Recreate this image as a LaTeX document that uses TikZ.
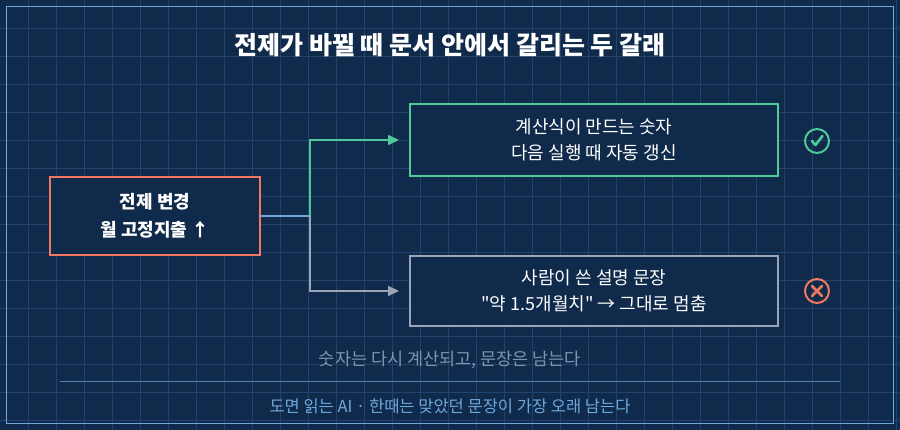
\documentclass[tikz,border=0pt]{standalone}
\usepackage{fontspec}
\setmainfont{Noto Sans CJK KR}
\newfontfamily\plainq{Noto Sans CJK KR}[Ligatures=TeXOff]
\usetikzlibrary{arrows.meta,positioning}
\definecolor{bgc}{HTML}{0F2A4A}
\definecolor{gridc}{HTML}{21436E}
\definecolor{framec}{HTML}{6FA8DC}
\definecolor{greenc}{HTML}{4FC99A}
\definecolor{redc}{HTML}{F07860}
\definecolor{grayc}{HTML}{9AA6B8}
\definecolor{mutec}{HTML}{7F93AE}
\tikzset{
  box/.style={draw, line width=2pt, fill=bgc, align=center, text=white, font=\fontsize{18}{26}\selectfont},
  link/.style={line width=2pt, -{Triangle[length=11pt,width=10pt]}}
}
\begin{document}
\begin{tikzpicture}[x=1pt,y=-1pt]
  \fill[bgc] (0,0) rectangle (900,430);
  \useasboundingbox (0,0) rectangle (900,430);
  \foreach \gx in {28,56,...,896} \draw[gridc, line width=0.8pt] (\gx,0) -- (\gx,430);
  \foreach \gy in {28,56,...,428} \draw[gridc, line width=0.8pt] (0,\gy) -- (900,\gy);
  \draw[framec, line width=1.2pt] (6.5,6.5) rectangle (893.5,423.5);
  \node[text=white, font=\fontsize{25}{30}\selectfont\bfseries] (title) at (450,45) {전제가 바뀔 때 문서 안에서 갈리는 두 갈래};
  \node[box, draw=redc, minimum width=210, minimum height=78, font=\fontsize{18}{28}\selectfont\bfseries] (premise) at (155,216) {전제 변경\\월 고정지출 ↑};
  \node[box, draw=greenc, minimum width=368, minimum height=72] (calc) at (594,140) {계산식이 만드는 숫자\\다음 실행 때 자동 갱신};
  \node[box, draw=grayc, minimum width=368, minimum height=70] (text) at (594,291) {사람이 쓴 설명 문장\\{\plainq"}약 1.5개월치{\plainq"} → 그대로 멈춤};
  \coordinate (fork) at (310,216);
  \draw[framec, line width=2pt] (premise.east) -- (fork);
  \draw[link, greenc] (fork) |- ([xshift=-10pt]calc.west);
  \draw[link, grayc] (fork) |- ([xshift=-10pt]text.west);
  % status marks
  \node[circle, draw=greenc, line width=2pt, minimum size=24pt, inner sep=0pt] (ok) at (817,141) {};
  \draw[greenc, line width=2.6pt, line cap=round, line join=round] ([shift={(-5,0)}]ok.center) -- ++(3.5,4) -- ++(7,-9);
  \node[circle, draw=redc, line width=2pt, minimum size=24pt, inner sep=0pt] (no) at (817,291) {};
  \draw[redc, line width=2.6pt, line cap=round] ([shift={(-5,-5)}]no.center) -- ([shift={(5,5)}]no.center);
  \draw[redc, line width=2.6pt, line cap=round] ([shift={(5,-5)}]no.center) -- ([shift={(-5,5)}]no.center);
  \node[text=mutec, font=\fontsize{17.5}{20}\selectfont] (note) at (450,360) {숫자는 다시 계산되고, 문장은 남는다};
  \coordinate (ruleL) at (60,382);
  \coordinate (ruleR) at (840,382);
  \draw[framec!70!bgc, line width=1pt] (ruleL) -- (ruleR);
  \node[text=framec, font=\fontsize{16.5}{19}\selectfont] (foot) at (450,406) {도면 읽는 AI · 한때는 맞았던 문장이 가장 오래 남는다};
\end{tikzpicture}
\end{document}
